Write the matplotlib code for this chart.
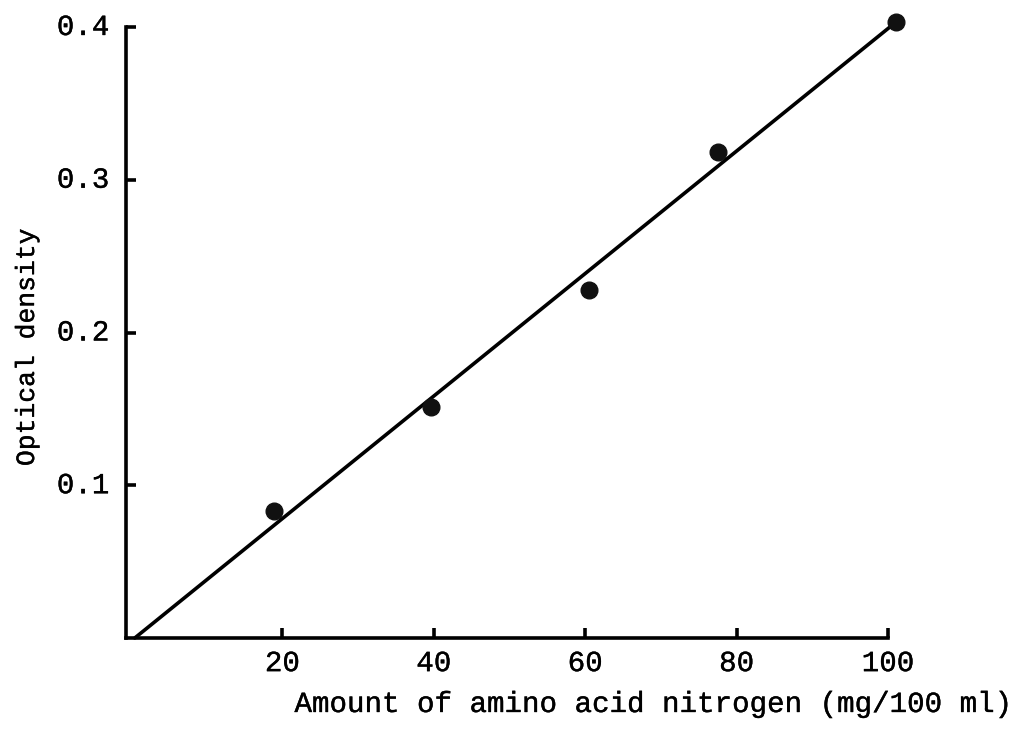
import matplotlib
matplotlib.use("Agg")
import matplotlib.pyplot as plt
import matplotlib.patheffects as pe

# amino acid nitrogen standards (mg/100 ml) and measured optical density
nitrogen = [18.9, 39.6, 60.5, 77.6, 101.0]
density = [0.083, 0.151, 0.228, 0.318, 0.403]

# straight calibration line drawn through the points
line_x = [0.5, 101.0]
line_y = [0.0, 0.403]

x_ticks = [20, 40, 60, 80, 100]
y_ticks = [0.1, 0.2, 0.3, 0.4]

plt.rcParams['font.family'] = ['Liberation Mono', 'DejaVu Sans Mono']

# a thin outline makes the typed letters a little heavier
ink = [pe.withStroke(linewidth=0.25, foreground='black')]

fig = plt.figure(figsize=(10.24, 7.44), dpi=100)
ax = fig.add_axes([126 / 1024, 106 / 744, (888 - 126) / 1024, (638 - 27) / 744])

ax.plot(line_x, line_y, color='black', lw=2.6, solid_capstyle='round', clip_on=False)
ax.plot(nitrogen, density, 'o', color='#111111', markersize=12, clip_on=False, zorder=3)

ax.set_xlim(-0.66, 100)
ax.set_ylim(0, 0.4)

for side in ['top', 'right']:
    ax.spines[side].set_visible(False)
for side in ['left', 'bottom']:
    ax.spines[side].set_linewidth(2.6)

ax.set_xticks(x_ticks)
ax.set_xticklabels([str(v) for v in x_ticks])
ax.set_yticks(y_ticks)
ax.set_yticklabels(['%.1f' % v for v in y_ticks])
ax.tick_params(axis='both', direction='in', length=7, width=2.6, labelsize=21)
ax.tick_params(axis='x', pad=8)
ax.tick_params(axis='y', pad=12)
for lab in ax.get_yticklabels() + ax.get_xticklabels():
    lab.set_path_effects(ink)
for lab in ax.get_yticklabels():
    lab.set_va('center')

fig.text(1012 / 1024, 32 / 744, 'Amount of amino acid nitrogen (mg/100 ml)',
         ha='right', va='baseline', fontsize=21, path_effects=ink)
fig.text(27 / 1024, 1 - 347 / 744, 'Optical density', rotation=90,
         ha='center', va='center', fontsize=19, path_effects=ink)

fig.savefig('out.png', dpi=100, facecolor='white')
